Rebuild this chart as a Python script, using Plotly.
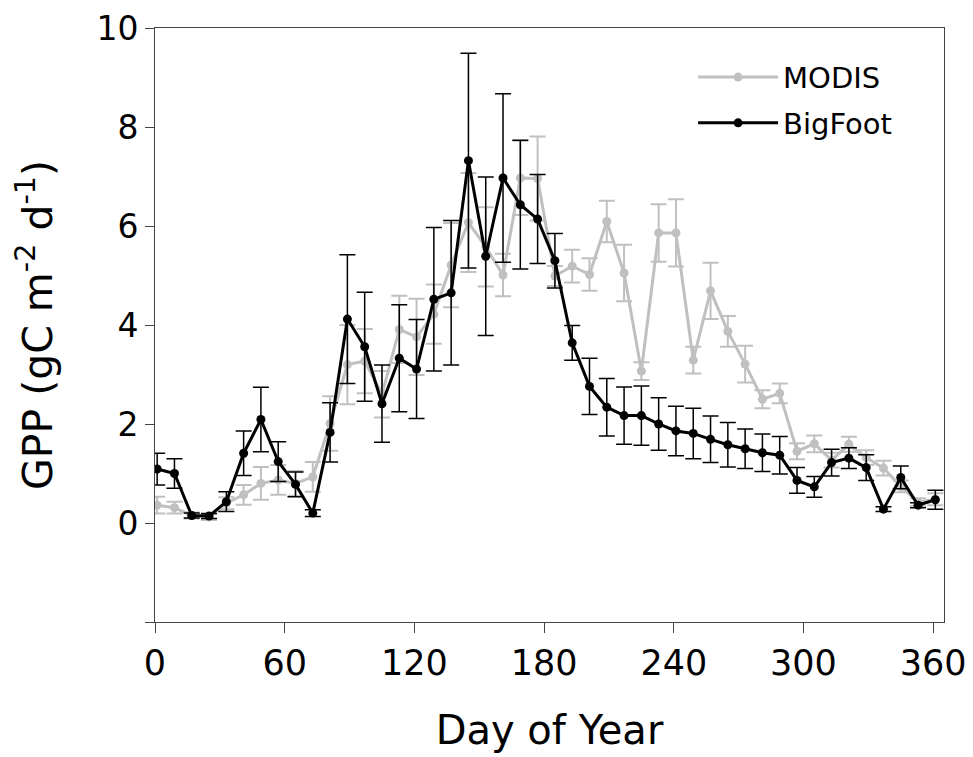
import plotly.graph_objects as go

# 8-day composite periods (day of year)
days = [1, 9, 17, 25, 33, 41, 49, 57, 65, 73, 81, 89, 97, 105, 113, 121,
        129, 137, 145, 153, 161, 169, 177, 185, 193, 201, 209, 217, 225, 233,
        241, 249, 257, 265, 273, 281, 289, 297, 305, 313, 321, 329, 337, 345,
        353, 361]

modis_gpp = [0.36, 0.31, 0.15, 0.12, 0.40, 0.57, 0.80, 0.87, 0.80, 0.93,
             2.01, 3.20, 3.27, 2.60, 3.91, 3.76, 4.22, 5.21, 6.07, 5.58,
             5.01, 6.97, 6.96, 4.99, 5.19, 5.02, 6.09, 5.05, 3.07, 5.86,
             5.86, 3.29, 4.69, 3.87, 3.21, 2.50, 2.62, 1.45, 1.60, 1.27,
             1.59, 1.32, 1.11, 0.74, 0.42, 0.48]
modis_err = [0.17, 0.12, 0.06, 0.06, 0.12, 0.20, 0.33, 0.30, 0.25, 0.30,
             0.55, 0.80, 0.65, 0.47, 0.68, 0.77, 0.60, 0.85, 1.00, 0.80,
             0.43, 0.75, 0.85, 0.20, 0.33, 0.33, 0.42, 0.57, 0.18, 0.58,
             0.68, 0.27, 0.57, 0.31, 0.37, 0.18, 0.20, 0.16, 0.17, 0.15,
             0.15, 0.15, 0.15, 0.12, 0.08, 0.12]

bigfoot_gpp = [1.09, 1.00, 0.15, 0.14, 0.43, 1.41, 2.09, 1.24, 0.78, 0.20,
               1.83, 4.12, 3.56, 2.41, 3.33, 3.11, 4.52, 4.65, 7.32, 5.39,
               6.97, 6.43, 6.14, 5.30, 3.64, 2.76, 2.34, 2.17, 2.17, 2.00,
               1.86, 1.81, 1.69, 1.58, 1.50, 1.42, 1.37, 0.86, 0.73, 1.22,
               1.31, 1.12, 0.28, 0.92, 0.36, 0.47]
bigfoot_err = [0.32, 0.30, 0.05, 0.05, 0.20, 0.45, 0.65, 0.40, 0.25, 0.07,
               0.60, 1.30, 1.10, 0.78, 1.08, 1.00, 1.45, 1.46, 2.17, 1.60,
               1.70, 1.30, 0.90, 0.55, 0.35, 0.57, 0.58, 0.58, 0.60, 0.53,
               0.50, 0.51, 0.47, 0.45, 0.40, 0.38, 0.38, 0.26, 0.21, 0.27,
               0.21, 0.26, 0.05, 0.23, 0.05, 0.19]

x_ticks = [0, 60, 120, 180, 240, 300, 360]
y_ticks = [-2, 0, 2, 4, 6, 8, 10]
y_ticktext = ["", "0", "2", "4", "6", "8", "10"]

FONT = "DejaVu Sans, Verdana, sans-serif"
GREY = "#c0c0c0"

fig = go.Figure()

fig.add_trace(go.Scatter(
    x=days, y=modis_gpp, name="MODIS", mode="lines+markers", legendgroup="m",
    line=dict(color=GREY, width=3),
    marker=dict(color=GREY, size=9),
    error_y=dict(type="data", array=modis_err, color=GREY, thickness=2, width=8)
))
fig.add_trace(go.Scatter(
    x=days, y=bigfoot_gpp, name="BigFoot", mode="lines+markers", legendgroup="b",
    line=dict(color="black", width=3),
    marker=dict(color="black", size=9),
    error_y=dict(type="data", array=bigfoot_err, color="black", thickness=1.5, width=8)
))

# page body adds ~8px offset, margins compensate
fig.update_layout(
    width=973, height=757,
    margin=dict(l=147, r=37, t=20, b=143),
    plot_bgcolor="white", paper_bgcolor="white",
    font=dict(family=FONT, size=30, color="black"),
    showlegend=True,
    legend=dict(x=0.682, y=0.96, xanchor="left", yanchor="top",
                bgcolor="rgba(0,0,0,0)", font=dict(size=29),
                itemwidth=80, tracegroupgap=5),
    xaxis=dict(
        range=[0, 365], tickmode="array", tickvals=x_ticks,
        ticks="outside", ticklen=10, tickcolor="#444",
        showline=True, linecolor="#444", linewidth=1, mirror=True,
        showgrid=False, zeroline=False, automargin=False,
        ticklabeloverflow="allow",
        tickfont=dict(size=35),
        title=dict(text="Day of Year", font=dict(size=40), standoff=33)
    ),
    yaxis=dict(
        range=[-2, 10], tickmode="array", tickvals=y_ticks, ticktext=y_ticktext,
        ticks="outside", ticklen=9, tickcolor="#444",
        showline=True, linecolor="#444", linewidth=1, mirror=True,
        showgrid=False, zeroline=False, automargin=False,
        ticklabeloverflow="allow",
        tickfont=dict(size=33),
        title=dict(text="GPP (gC m<sup>-2</sup> d<sup>-1</sup>)", font=dict(size=41), standoff=52)
    )
)

fig.write_html("out.html")
